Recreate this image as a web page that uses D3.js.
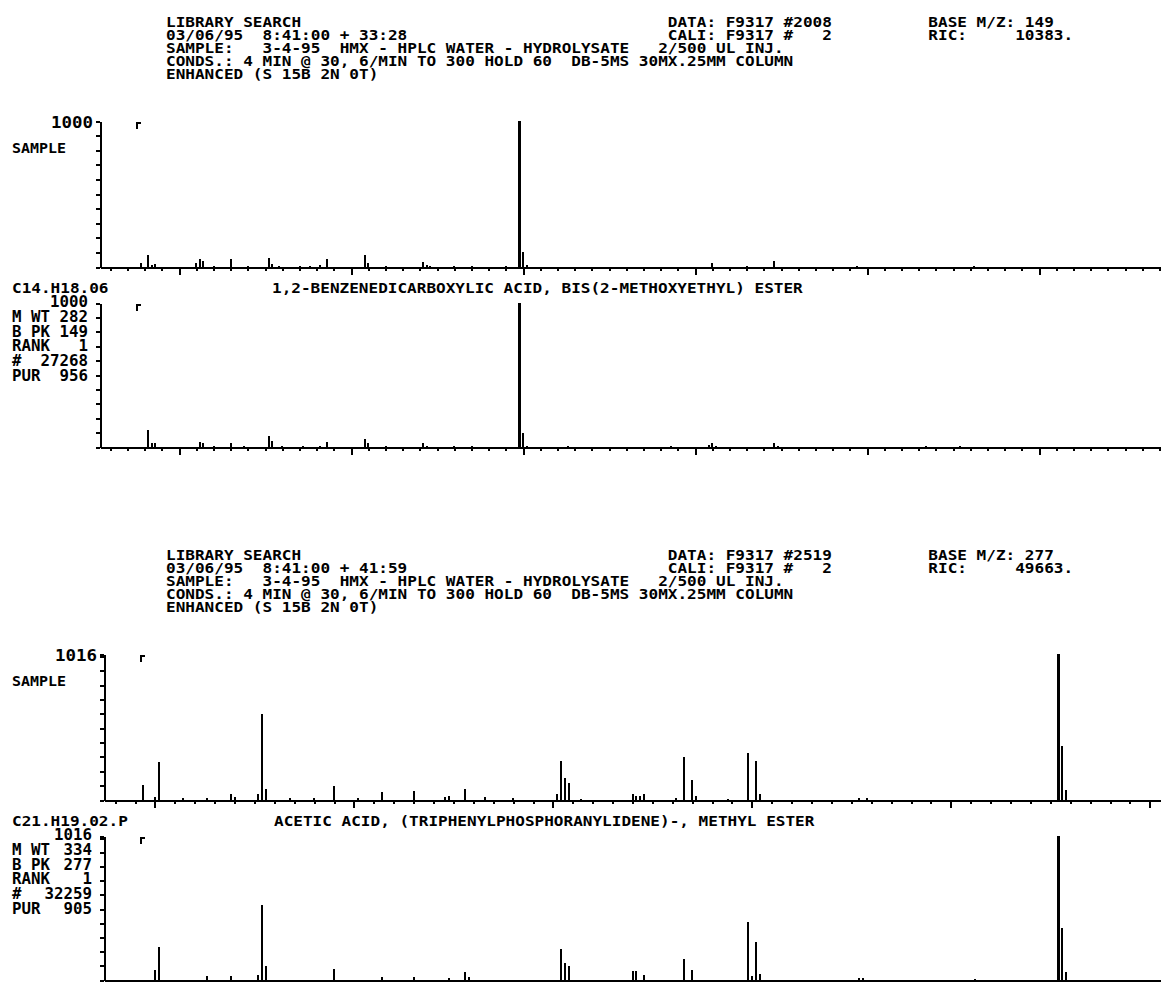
<!DOCTYPE html>
<html>
<head>
<meta charset="utf-8">
<script src="https://cdn.jsdelivr.net/npm/d3@7"></script>
<style>
  html, body { margin: 0; padding: 0; background: #fff; }
  svg { display: block; }
  text { font-family: "DejaVu Sans Mono", "Liberation Mono", monospace; font-weight: bold; fill: #000; white-space: pre; }
</style>
</head>
<body>
<svg id="chart" width="1161" height="982"></svg>
<script>
// ---------- printout text ----------
const headerScanA = [
  "LIBRARY SEARCH",
  "03/06/95  8:41:00 + 33:28",
  "SAMPLE:   3-4-95  HMX - HPLC WATER - HYDROLYSATE   2/500 UL INJ.",
  "CONDS.: 4 MIN @ 30, 6/MIN TO 300 HOLD 60  DB-5MS 30MX.25MM COLUMN",
  "ENHANCED (S 15B 2N 0T)"
];
const dataScanA = ["DATA: F9317 #2008", "CALI: F9317 #   2"];
const baseScanA = ["BASE M/Z: 149", "RIC:     10383."];

const headerScanB = [
  "LIBRARY SEARCH",
  "03/06/95  8:41:00 + 41:59",
  "SAMPLE:   3-4-95  HMX - HPLC WATER - HYDROLYSATE   2/500 UL INJ.",
  "CONDS.: 4 MIN @ 30, 6/MIN TO 300 HOLD 60  DB-5MS 30MX.25MM COLUMN",
  "ENHANCED (S 15B 2N 0T)"
];
const dataScanB = ["DATA: F9317 #2519", "CALI: F9317 #   2"];
const baseScanB = ["BASE M/Z: 277", "RIC:     49663."];

// ---------- library hits ----------
const libFormulaA = "C14.H18.06";
const libNameA = "1,2-BENZENEDICARBOXYLIC ACID, BIS(2-METHOXYETHYL) ESTER";
const libInfoKeysA = ["M WT", "B PK", "RANK", "#", "PUR"];
const libInfoValsA = ["282", "149", "1", "27268", "956"];

const libFormulaB = "C21.H19.02.P";
const libNameB = "ACETIC ACID, (TRIPHENYLPHOSPHORANYLIDENE)-, METHYL ESTER";
const libInfoKeysB = ["M WT", "B PK", "RANK", "#", "PUR"];
const libInfoValsB = ["334", "277", "1", "32259", "905"];

// ---------- intensity full scale and m/z windows ----------
const fullScaleA = 1000;
const fullScaleB = 1016;
const mzWindowA = [27, 336];
const mzWindowB = [37.2, 302.8];

// ---------- spectra (m/z, abundance) ----------
// scan #2008, sample
const sampleAMz = [39, 41, 42, 43, 55, 56, 57, 60, 65, 70, 76, 77, 79, 85, 88, 91, 93, 104, 105, 110, 121, 122, 123, 130, 135, 145, 149, 150, 151, 205, 215, 223, 247, 281];
const sampleAAb = [25, 85, 15, 20, 30, 58, 40, 8, 52, 8, 64, 20, 10, 8, 10, 12, 52, 80, 25, 8, 37, 15, 10, 8, 8, 10, 1000, 100, 15, 25, 10, 40, 8, 8];
// library entry for scan #2008
const libAMz = [41, 42, 43, 56, 57, 60, 65, 69, 76, 77, 80, 86, 91, 93, 104, 105, 110, 121, 122, 130, 135, 149, 150, 151, 163, 193, 204, 205, 206, 223, 224, 267, 277];
const libAAb = [115, 25, 28, 35, 30, 8, 30, 8, 75, 40, 8, 8, 8, 35, 58, 25, 8, 30, 10, 8, 8, 1000, 97, 10, 8, 10, 12, 30, 10, 25, 8, 8, 10];
// scan #2519, sample
const sampleBMz = [47, 50, 51, 57, 63, 69, 70, 76, 77, 78, 84, 90, 95, 101, 107, 115, 123, 124, 128, 133, 140, 151, 152, 153, 154, 157, 170, 171, 172, 173, 181, 183, 185, 186, 194, 199, 201, 202, 227, 229, 277, 278, 279];
const sampleBAb = [105, 20, 267, 15, 15, 41, 20, 40, 595, 80, 12, 12, 95, 15, 55, 60, 20, 25, 80, 20, 15, 40, 270, 150, 120, 10, 40, 30, 25, 45, 12, 301, 140, 30, 10, 329, 274, 40, 15, 15, 1016, 378, 70];
// library entry for scan #2519
const libBMz = [50, 51, 63, 69, 76, 77, 78, 95, 107, 115, 124, 128, 129, 152, 153, 154, 170, 171, 173, 183, 185, 199, 200, 201, 202, 227, 228, 256, 277, 278, 279];
const libBAb = [70, 233, 25, 25, 37, 530, 100, 75, 20, 20, 15, 55, 20, 220, 120, 100, 63, 63, 35, 148, 70, 409, 30, 270, 45, 12, 12, 10, 1016, 367, 58];

// ---------- drawing ----------
const svg = d3.select("#chart");
const PITCH = 9.65;      // printer character pitch
const FONT = 14;
const LINE = 13;
const PAGE_STEP = 533;   // vertical offset of the second printout

function printLine(g, str, x, y, opts = {}) {
  const t = g.append("text")
    .attr("x", x).attr("y", y)
    .attr("font-size", opts.size || FONT)
    .attr("textLength", str.length * (opts.pitch || PITCH))
    .attr("lengthAdjust", "spacingAndGlyphs")
    .text(str);
  if (opts.anchor) t.attr("text-anchor", opts.anchor);
  return t;
}

function drawHeader(top, lines, dataLines, baseLines) {
  const g = svg.append("g");
  lines.forEach((s, i) => printLine(g, s, 166, top + i * LINE));
  dataLines.forEach((s, i) => printLine(g, s, 166 + 52 * PITCH, top + i * LINE));
  baseLines.forEach((s, i) => printLine(g, s, 166 + 79 * PITCH, top + i * LINE));
}

function drawSpectrum(cfg) {
  const g = svg.append("g");
  const x = d3.scaleLinear().domain(cfg.window).range([cfg.axisX, cfg.right]);
  const y = d3.scaleLinear().domain([0, cfg.full]).range([cfg.base, cfg.top]);
  const peaks = d3.zip(cfg.mz, cfg.ab);

  // peaks as vertical sticks
  g.append("g").selectAll("line").data(peaks).join("line")
    .attr("x1", d => x(d[0])).attr("x2", d => x(d[0]))
    .attr("y1", y(0)).attr("y2", d => y(d[1]))
    .attr("stroke", "#000")
    .attr("stroke-width", d => d[1] >= cfg.full * 0.9 ? 3 : 2)
    .attr("shape-rendering", "crispEdges");

  // m/z axis: minor ticks every 5, major every 50
  const lo = Math.ceil(cfg.window[0] / 5) * 5;
  const minor = d3.range(lo, cfg.window[1], 5);
  const major = minor.filter(v => v % 50 === 0);
  const xMinor = g.append("g").attr("transform", `translate(0,${cfg.base})`)
    .call(d3.axisBottom(x).tickValues(minor).tickSizeInner(4).tickSizeOuter(0).tickFormat(""));
  const xMajor = g.append("g").attr("transform", `translate(0,${cfg.base})`)
    .call(d3.axisBottom(x).tickValues(major).tickSizeInner(8).tickSizeOuter(0).tickFormat(""));
  xMajor.select(".domain").remove();

  // abundance axis: ticks every 100 plus full scale
  const yTicks = d3.range(0, 1001, 100).concat(cfg.full !== 1000 ? [cfg.full] : []);
  const yAx = g.append("g").attr("transform", `translate(${cfg.axisX},0)`)
    .call(d3.axisLeft(y).tickValues(yTicks).tickSizeInner(4).tickSizeOuter(0).tickFormat(""));

  [xMinor, xMajor, yAx].forEach(a => {
    a.selectAll("path, line").attr("stroke", "#000").attr("shape-rendering", "crispEdges");
    a.select(".domain").attr("stroke-width", 2);
    a.selectAll(".tick line").attr("stroke-width", 2);
  });

  // small range marker near the top of the plot
  g.append("path")
    .attr("d", `M${cfg.axisX + 37},${cfg.top + 8}V${cfg.top + 2}H${cfg.axisX + 41}`)
    .attr("fill", "none").attr("stroke", "#000").attr("stroke-width", 2);

  return { x, y, g };
}

function drawInfo(g, full, keys, vals, right, top, step) {
  printLine(g, String(full), right, top, { anchor: "end", size: 15, pitch: 9.5 });
  keys.forEach((k, i) => printLine(g, k, 12, top + (i + 1) * step, { size: 15, pitch: 9.5 }));
  vals.forEach((v, i) => printLine(g, v, right, top + (i + 1) * step, { anchor: "end", size: 15, pitch: 9.5 }));
}

// one printout: header, sample spectrum, library match spectrum
function drawPage(dy, hdr, dat, bas, sMz, sAb, lMz, lAb, full, win, axisX, right, formula, name, nameX, keys, vals, infoRight) {
  drawHeader(27 + dy, hdr, dat, bas);

  const ps = drawSpectrum({ mz: sMz, ab: sAb, window: win, full: full,
    axisX: axisX, right: right, top: 121 + dy, base: 267 + dy });
  printLine(ps.g, String(full), axisX - 7, 128 + dy, { anchor: "end", size: 15, pitch: 10.5 });
  printLine(ps.g, "SAMPLE", 12, 153 + dy, { pitch: 9 });

  const tg = svg.append("g");
  printLine(tg, formula, 12, 293 + dy);
  printLine(tg, name, nameX, 293 + dy);

  const pl = drawSpectrum({ mz: lMz, ab: lAb, window: win, full: full,
    axisX: axisX, right: right, top: 303 + dy, base: 447 + dy });
  drawInfo(pl.g, full, keys, vals, infoRight, 307 + dy, 14.8);
}

drawPage(0, headerScanA, dataScanA, baseScanA, sampleAMz, sampleAAb, libAMz, libAAb,
  fullScaleA, mzWindowA, 100, 1163, libFormulaA, libNameA, 272, libInfoKeysA, libInfoValsA, 88);

drawPage(PAGE_STEP, headerScanB, dataScanB, baseScanB, sampleBMz, sampleBAb, libBMz, libBAb,
  fullScaleB, mzWindowB, 104, 1161, libFormulaB, libNameB, 274, libInfoKeysB, libInfoValsB, 92);
</script>
</body>
</html>
